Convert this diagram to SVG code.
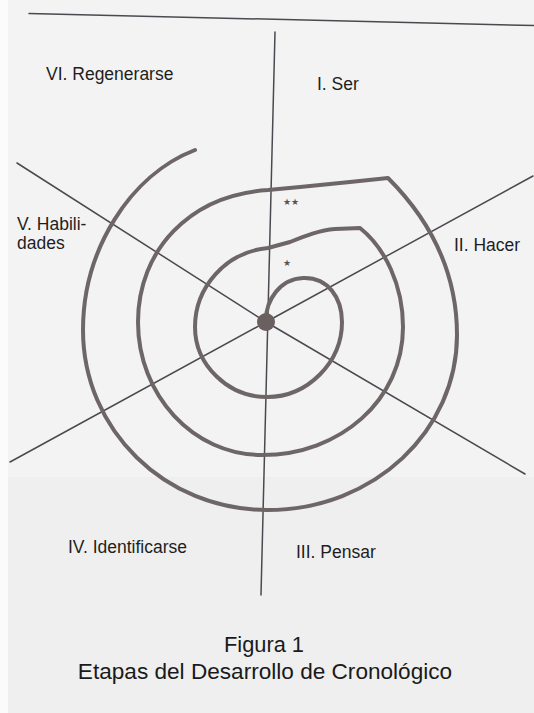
<svg xmlns="http://www.w3.org/2000/svg" width="534" height="713" viewBox="0 0 534 713">
<style>
.lbl{font-family:"Liberation Sans",Arial,sans-serif;font-size:17.5px;fill:#1e1e1e}
.cap{font-family:"Liberation Sans",Arial,sans-serif;fill:#1a1a1a;text-anchor:middle}
.ax{stroke:#4c4850;stroke-width:1.5;fill:none;stroke-linecap:round}
.sp{stroke:#6e6666;stroke-width:4;fill:none;stroke-linecap:round;stroke-linejoin:round}
.star{font-family:"DejaVu Sans",sans-serif;font-size:9px;fill:#555}
</style>
<rect x="0" y="0" width="534" height="713" fill="#f3f3f3"/>
<rect x="0" y="477" width="534" height="236" fill="#efefef"/>
<rect x="0" y="0" width="8" height="713" fill="#fbfbfb"/>
<g id="connectors">
<line class="ax" x1="29" y1="13.5" x2="534" y2="25.5" stroke-width="1.6"/>
<line class="ax" x1="275" y1="32" x2="261" y2="595"/>
<polyline class="ax" points="17,163 266,322 525,474"/>
<polyline class="ax" points="10,462 266,322 533,176"/>
</g>
<g id="spiral">
<path class="sp" d="M266,320 C266,300 280,279 303,278 C328,277 342,298 342,322 C342,362 308,397 267,397 C228,397 195,365 195,327 C195,288 225,252 268,248 L290,242 C305,236 320,230 335,229 L360,228 C385,248 403,285 403,327 C403,400 340,455 262,455 C193,455 138,395 138,322 C138,250 190,195 268,190 L300,187 L350,182 L388,178 C420,210 457,260 457,335 C457,430 375,510 267,510 C165,510 83,430 83,330 C83,250 130,175 195,150"/>
<circle cx="266" cy="322" r="9" fill="#6a6060"/>
<text class="star" x="283" y="205">★★</text>
<text class="star" x="283" y="266">★</text>
</g>
<g id="n1"><text class="lbl" x="317" y="90">I. Ser</text></g>
<g id="n2"><text class="lbl" x="454" y="251">II. Hacer</text></g>
<g id="n3"><text class="lbl" x="296" y="558">III. Pensar</text></g>
<g id="n4"><text class="lbl" x="68" y="553">IV. Identificarse</text></g>
<g id="n5"><text class="lbl" x="17" y="230" font-size="15.5">V. Habili-</text><text class="lbl" x="17" y="249" font-size="15.5">dades</text></g>
<g id="n6"><text class="lbl" x="46" y="80">VI. Regenerarse</text></g>
<g id="caption">
<text class="cap" x="264" y="652" font-size="21.8">Figura 1</text>
<text class="cap" x="265" y="679" font-size="22.6">Etapas del Desarrollo de Cronológico</text>
</g>
</svg>
